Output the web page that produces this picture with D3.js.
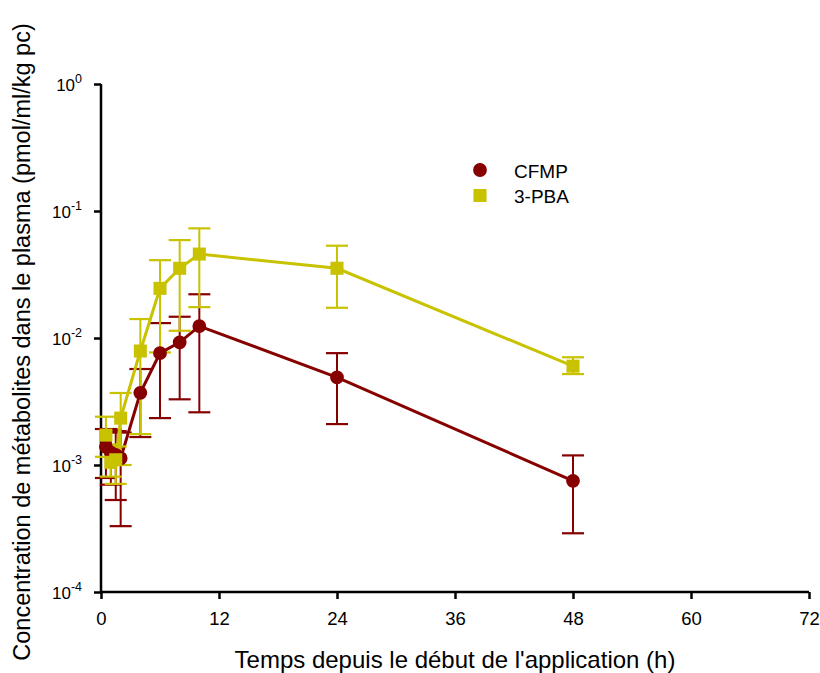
<!DOCTYPE html>
<html lang="fr">
<head>
<meta charset="utf-8">
<title>Concentration de métabolites dans le plasma</title>
<script src="https://d3js.org/d3.v7.min.js"></script>
<style>
  body { margin: 0; background: #fff; }
  svg text { font-family: Arial, "Liberation Sans", sans-serif; fill: #000; }
</style>
</head>
<body>
<svg width="820" height="673"></svg>
<script>
// time points (h)
var times = [0.5, 1, 1.5, 2, 4, 6, 8, 10, 24, 48];

// CFMP: mean and error bar limits (pmol/ml/kg pc)
var cfmpMean  = [1.39e-3, 1.25e-3, 1.2e-3, 1.13e-3, 3.7e-3, 7.6e-3, 9.25e-3, 1.24e-2, 4.9e-3, 7.5e-4];
var cfmpUpper = [1.92e-3, 1.9e-3, 1.85e-3, 1.8e-3, 5.7e-3, 1.31e-2, 1.47e-2, 2.21e-2, 7.6e-3, 1.19e-3];
var cfmpLower = [7.9e-4, 7.0e-4, 5.3e-4, 3.3e-4, 1.66e-3, 2.34e-3, 3.29e-3, 2.6e-3, 2.1e-3, 2.9e-4];

// 3-PBA
var pbaMean  = [1.72e-3, 1.05e-3, 1.1e-3, 2.34e-3, 7.9e-3, 2.46e-2, 3.54e-2, 4.58e-2, 3.54e-2, 6.0e-3];
var pbaUpper = [2.4e-3, 1.45e-3, 1.4e-3, 3.69e-3, 1.41e-2, 4.1e-2, 5.9e-2, 7.3e-2, 5.33e-2, 7.05e-3];
var pbaLower = [1.16e-3, 8.1e-4, 7.1e-4, 1.0e-3, 1.75e-3, 7.7e-3, 1.14e-2, 1.75e-2, 1.73e-2, 5.2e-3];

var xTicks = [0, 12, 24, 36, 48, 60, 72];
var yExponents = [0, -1, -2, -3, -4];

var series = [
  { name: "CFMP", color: "#870000", symbol: "circle", mean: cfmpMean, upper: cfmpUpper, lower: cfmpLower },
  { name: "3-PBA", color: "#c8c200", symbol: "square", mean: pbaMean, upper: pbaUpper, lower: pbaLower }
];

var svg = d3.select("svg");

var x = d3.scaleLinear().domain([0, 72]).range([101, 809]);
var y = d3.scaleLog().domain([1e-4, 1]).range([592, 84]);

// axes
var xAxis = svg.append("g")
  .attr("transform", "translate(0,592)")
  .call(d3.axisBottom(x).tickValues(xTicks).tickSize(7).tickPadding(13).tickFormat(d3.format("d")));
xAxis.select(".domain").attr("stroke-width", 2.5).attr("d", "M101,0H809");
xAxis.selectAll(".tick line").attr("stroke-width", 2.5);
xAxis.selectAll(".tick text").attr("font-size", 18.5).attr("font-family", "Arial, 'Liberation Sans', sans-serif");

var yAxis = svg.append("g")
  .attr("transform", "translate(101,0)")
  .call(d3.axisLeft(y).tickValues(yExponents.map(function(e) { return Math.pow(10, e); })).tickSize(7).tickFormat(""));
yAxis.select(".domain").attr("stroke-width", 2.5).attr("d", "M0,84V594");
yAxis.selectAll(".tick line").attr("stroke-width", 2.5);

// y tick labels with superscripts
var yLab = svg.append("g");
yExponents.forEach(function(e) {
  var t = yLab.append("text")
    .attr("x", 82)
    .attr("y", y(Math.pow(10, e)) + 7)
    .attr("text-anchor", "end")
    .attr("font-size", 17);
  t.append("tspan").text("10");
  t.append("tspan").attr("dy", -8).attr("font-size", 12.5).text(e === 0 ? "0" : "-" + Math.abs(e));
});

// axis titles
svg.append("text")
  .attr("x", 455).attr("y", 668)
  .attr("text-anchor", "middle")
  .attr("font-size", 24)
  .text("Temps depuis le début de l'application (h)");

svg.append("text")
  .attr("transform", "translate(30,342) rotate(-90)")
  .attr("text-anchor", "middle")
  .attr("font-size", 23.5)
  .text("Concentration de métabolites dans le plasma (pmol/ml/kg pc)");

var line = d3.line()
  .x(function(d) { return x(d.t); })
  .y(function(d) { return y(d.v); });

function points(s) {
  return times.map(function(t, i) { return { t: t, v: s.mean[i], hi: s.upper[i], lo: s.lower[i] }; });
}

// error bars and lines first, then symbols
series.forEach(function(s) {
  var g = svg.append("g").attr("stroke", s.color).attr("fill", "none");
  var pts = points(s);
  g.selectAll("line.bar").data(pts).enter().append("line")
    .attr("x1", function(d) { return x(d.t); })
    .attr("x2", function(d) { return x(d.t); })
    .attr("y1", function(d) { return y(d.hi); })
    .attr("y2", function(d) { return y(d.lo); })
    .attr("stroke-width", 2);
  g.selectAll("line.capHi").data(pts).enter().append("line")
    .attr("x1", function(d) { return x(d.t) - 11; })
    .attr("x2", function(d) { return x(d.t) + 11; })
    .attr("y1", function(d) { return y(d.hi); })
    .attr("y2", function(d) { return y(d.hi); })
    .attr("stroke-width", 2.2);
  g.selectAll("line.capLo").data(pts).enter().append("line")
    .attr("x1", function(d) { return x(d.t) - 11; })
    .attr("x2", function(d) { return x(d.t) + 11; })
    .attr("y1", function(d) { return y(d.lo); })
    .attr("y2", function(d) { return y(d.lo); })
    .attr("stroke-width", 2.2);
  g.append("path").datum(pts).attr("d", line).attr("stroke-width", 3);
});

var symCircle = d3.symbol().type(d3.symbolCircle).size(150);
var symSquare = d3.symbol().type(d3.symbolSquare).size(170);

series.forEach(function(s) {
  svg.append("g").selectAll("path").data(points(s)).enter().append("path")
    .attr("transform", function(d) { return "translate(" + x(d.t) + "," + y(d.v) + ")"; })
    .attr("d", s.symbol === "circle" ? symCircle : symSquare)
    .attr("fill", s.color);
});

// legend
var legend = svg.append("g").attr("transform", "translate(480,170)");
series.forEach(function(s, i) {
  var row = legend.append("g").attr("transform", "translate(0," + (i * 25.5) + ")");
  row.append("path")
    .attr("d", s.symbol === "circle" ? symCircle : symSquare)
    .attr("fill", s.color);
  row.append("text").attr("x", 34).attr("y", 7.5).attr("font-size", 19).text(s.name);
});
</script>
</body>
</html>
